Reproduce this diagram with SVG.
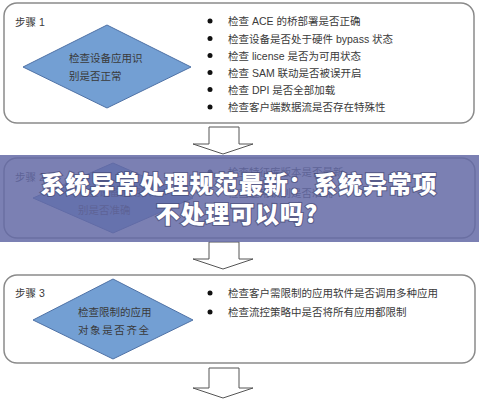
<svg xmlns="http://www.w3.org/2000/svg" width="479" height="400" viewBox="0 0 479 400">
<defs>
<style>
.box{fill:#fff;stroke:#8a8a8a;stroke-width:1.5}
.dia{fill:#739fd3;stroke:#4f72a6;stroke-width:1}
.t{font-family:"Liberation Sans","Noto Sans CJK SC",sans-serif;font-size:10.5px;fill:#3a3a3a}
.arr{fill:#fff;stroke:#555;stroke-width:1}
.dot{fill:#111}
.title{font-family:"Noto Sans CJK SC",sans-serif;font-weight:900;font-size:24px;fill:#fff;stroke:#3c3f66;stroke-width:2.2;stroke-opacity:0.55;paint-order:stroke;text-anchor:middle;letter-spacing:0.8px}
</style>
</defs>
<rect width="479" height="400" fill="#fff"/>
<g id="connectors">
<path class="arr" d="M209,127 H239 V144 H253 L223,154 L193,144 H209 Z"/>
<path class="arr" d="M209,242 H239 V259 H253 L223,269 L193,259 H209 Z"/>
<path class="arr" d="M209,368 H239 V388 H253 L223,398 L193,388 H209 Z"/>
</g>
<g id="step1">
<rect class="box" x="4" y="3" width="470" height="120" rx="13"/>
<text class="t" x="15" y="26">步骤 1</text>
<polygon class="dia" points="107,25 191,67 107,108 23,67"/>
<text class="t" x="69" y="62">检查设备应用识</text>
<text class="t" x="69" y="80">别是否正常</text>
<circle class="dot" cx="210" cy="21" r="2.5"/>
<circle class="dot" cx="210" cy="38.5" r="2.5"/>
<circle class="dot" cx="210" cy="55.5" r="2.5"/>
<circle class="dot" cx="210" cy="72.5" r="2.5"/>
<circle class="dot" cx="210" cy="89.5" r="2.5"/>
<circle class="dot" cx="210" cy="107" r="2.5"/>
<text class="t" x="228" y="25">检查 ACE 的桥部署是否正确</text>
<text class="t" x="228" y="42.5">检查设备是否处于硬件 bypass 状态</text>
<text class="t" x="228" y="59.5">检查 license 是否为可用状态</text>
<text class="t" x="228" y="76.5">检查 SAM 联动是否被误开启</text>
<text class="t" x="228" y="93.5">检查 DPI 是否全部加载</text>
<text class="t" x="228" y="111">检查客户端数据流是否存在特殊性</text>
</g>
<g id="step2">
<rect class="box" x="4" y="158" width="471" height="80" rx="13"/>
<text class="t" x="15" y="181">步骤 2</text>
<polygon class="dia" points="113,163 193,198 113,233 33,198"/>
<text class="t" x="78" y="196">检查设备应用识</text>
<text class="t" x="78" y="214">别是否准确</text>
<circle class="dot" cx="210" cy="172" r="2.5"/>
<circle class="dot" cx="210" cy="193" r="2.5"/>
<text class="t" x="228" y="176">检查特征库版本是否最新</text>
<text class="t" x="228" y="197">检查应用识别是否准确</text>
</g>
<g id="step3">
<rect class="box" x="4" y="275" width="471" height="88" rx="13"/>
<text class="t" x="15" y="297">步骤 3</text>
<polygon class="dia" points="113,279 193,320 113,359 33,320"/>
<text class="t" x="78" y="316">检查限制的应用</text>
<text class="t" x="78" y="334" letter-spacing="1.6">对象是否齐全</text>
<circle class="dot" cx="210" cy="293" r="2.5"/>
<circle class="dot" cx="210" cy="312" r="2.5"/>
<text class="t" x="228" y="297">检查客户需限制的应用软件是否调用多种应用</text>
<text class="t" x="228" y="316">检查流控策略中是否将所有应用都限制</text>
</g>
<g id="banner">
<rect x="0" y="155" width="479" height="87" fill="#646aa6" fill-opacity="0.85"/>
<text class="title" x="239" y="193">系统异常处理规范最新：系统异常项</text>
<text class="title" x="237" y="223">不处理可以吗?</text>
</g>
</svg>
